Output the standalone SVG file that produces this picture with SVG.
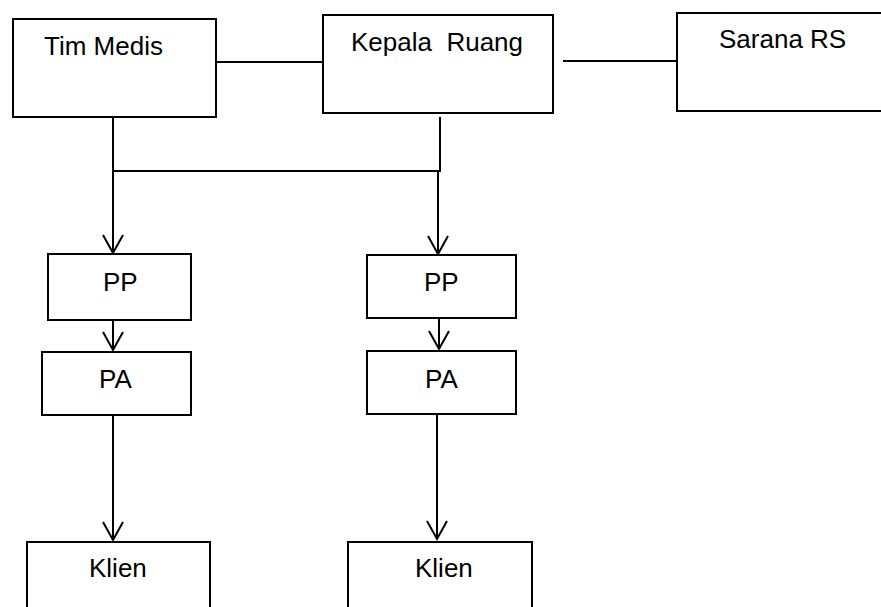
<svg xmlns="http://www.w3.org/2000/svg" width="881" height="607" viewBox="0 0 881 607">
<style>
.box{fill:#fff;stroke:#000;stroke-width:2}
.lbl{font-family:"Liberation Sans",Arial,sans-serif;font-size:26px;fill:#000}
.c{stroke:#000;stroke-width:2;fill:none}
</style>
<defs>
<marker id="arr" markerUnits="userSpaceOnUse" markerWidth="24" markerHeight="24" viewBox="-20 -12 24 24" refX="0" refY="0" orient="auto" overflow="visible">
<path d="M-18,-10 L0,0 L-18,10" fill="none" stroke="#000" stroke-width="2"/>
</marker>
</defs>
<rect width="881" height="607" fill="#fff"/>
<g id="connectors">
<line class="c" x1="216" y1="62" x2="322" y2="62"/>
<line class="c" x1="563" y1="61" x2="677" y2="61"/>
<polyline class="c" points="113,117 113,171 440,171 440,117"/>
<line class="c" x1="113" y1="171" x2="113" y2="253" marker-end="url(#arr)"/>
<line class="c" x1="438" y1="171" x2="438" y2="254" marker-end="url(#arr)"/>
<line class="c" x1="113" y1="320" x2="113" y2="350" marker-end="url(#arr)"/>
<line class="c" x1="439" y1="318" x2="439" y2="349" marker-end="url(#arr)"/>
<line class="c" x1="113" y1="415" x2="113" y2="540" marker-end="url(#arr)"/>
<line class="c" x1="437" y1="414" x2="437" y2="539" marker-end="url(#arr)"/>
</g>
<g id="tim-medis"><rect class="box" x="13" y="19" width="203" height="98"/><text class="lbl" x="44" y="55">Tim Medis</text></g>
<g id="kepala-ruang"><rect class="box" x="323" y="15" width="230" height="98"/><text class="lbl" x="351" y="51" xml:space="preserve">Kepala  Ruang</text></g>
<g id="sarana-rs"><rect class="box" x="677" y="13" width="220" height="98"/><text class="lbl" x="719" y="48">Sarana RS</text></g>
<g id="pp-left"><rect class="box" x="48" y="254" width="143" height="66"/><text class="lbl" x="103" y="291">PP</text></g>
<g id="pa-left"><rect class="box" x="42" y="352" width="149" height="63"/><text class="lbl" x="99" y="388">PA</text></g>
<g id="klien-left"><rect class="box" x="27" y="542" width="183" height="80"/><text class="lbl" x="89" y="577">Klien</text></g>
<g id="pp-right"><rect class="box" x="367" y="255" width="149" height="63"/><text class="lbl" x="424" y="291">PP</text></g>
<g id="pa-right"><rect class="box" x="367" y="351" width="149" height="63"/><text class="lbl" x="425" y="388">PA</text></g>
<g id="klien-right"><rect class="box" x="348" y="542" width="184" height="80"/><text class="lbl" x="415" y="577">Klien</text></g>
</svg>
